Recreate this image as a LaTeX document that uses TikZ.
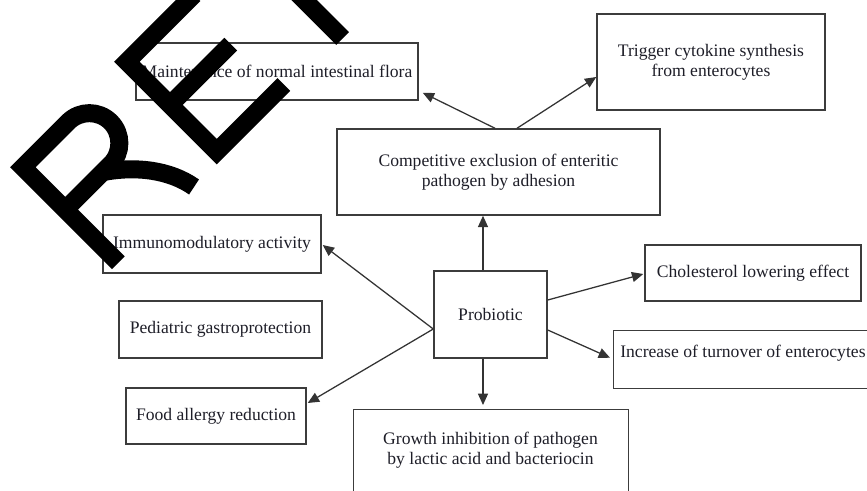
\documentclass[tikz,border=0pt]{standalone}
\usepackage{fontspec}
\setmainfont{Liberation Serif}
\usetikzlibrary{arrows.meta,calc}
\newlength{\pxu}\setlength{\pxu}{0.75pt}
\definecolor{linec}{HTML}{333333}
\definecolor{boxc}{HTML}{3C3C3C}
\definecolor{txtc}{HTML}{1E1E28}
\begin{document}
\begin{tikzpicture}[x=0.75pt,y=-0.75pt,
  box/.style={draw=boxc, line width=1.1pt, rectangle, inner sep=0pt,
    font=\fontsize{13.2pt}{15pt}\selectfont, text=txtc, align=center},
  txt/.style={inner sep=0pt, font=\fontsize{13.2pt}{15pt}\selectfont, text=txtc, align=center},
  arr/.style={draw=linec, line width=0.95pt, -{Triangle[length=8.5pt,width=7.5pt]}},
  wm/.style={draw=black, line width=13.5pt, line cap=butt, line join=miter}
]
\path[use as bounding box] (0,0) rectangle (867,490);
\clip (0,0) rectangle (867,490);

\node[box, minimum width=282\pxu, minimum height=57\pxu] (maint) at (277,71.5) {Maintenance of normal intestinal flora};
\node[box, minimum width=228\pxu, minimum height=96\pxu] (trig) at (711,62) {Trigger cytokine synthesis\\from enterocytes};
\node[box, minimum width=323\pxu, minimum height=86\pxu] (comp) at (498.5,172) {Competitive exclusion of enteritic\\pathogen by adhesion};
\node[box, minimum width=218\pxu, minimum height=58\pxu] (immu) at (212,244) {Immunomodulatory activity};
\node[box, minimum width=203\pxu, minimum height=57\pxu] (pedi) at (220.5,329.5) {Pediatric gastroprotection};
\node[box, minimum width=180\pxu, minimum height=56\pxu] (food) at (216,416) {Food allergy reduction};
\node[box, minimum width=113\pxu, minimum height=87\pxu] (prob) at (490.5,314.5) {Probiotic};
\node[box, minimum width=216\pxu, minimum height=56\pxu] (chol) at (753,273) {Cholesterol lowering effect};
\node[box, minimum width=280\pxu, minimum height=58\pxu, anchor=north west] (incr) at (613,330) {};
\node[txt, anchor=base west] (incrtxt) at (620,357) {Increase of turnover of enterocytes};
\node[box, minimum width=275\pxu, minimum height=110\pxu, anchor=north west] (grow) at (353,409) {};
\node[txt] (growtxt) at (490.5,450) {Growth inhibition of pathogen\\by lactic acid and bacteriocin};

\coordinate (pu) at ($(prob.north)+(-7.5,0)$);
\draw[arr] (pu) -- (pu |- comp.south);
\coordinate (pd) at ($(prob.south)+(-7.5,0)$);
\coordinate (gt0) at (pd |- grow.north);
\coordinate (gt) at ($(gt0)+(0,-4)$);
\draw[arr] (pd) -- (gt);
\coordinate (pl) at ($(prob.west)+(0,14.5)$);
\draw[arr] (pl) -- ($(immu.east)+(1,1)$);
\draw[arr] (pl) -- ($(food.east)+(1,-13)$);
\draw[arr] ($(prob.east)+(0,-14.5)$) -- ($(chol.west)+(-1,1)$);
\draw[arr] ($(prob.east)+(0,15.5)$) -- ($(incr.west)+(-3,-2)$);
\draw[arr] ($(comp.north)+(-3.5,0)$) -- ($(maint.south east)+(4,-8)$);
\draw[arr] ($(comp.north)+(18.5,0)$) -- ($(trig.west)+(0,15)$);

\begin{scope}[shift={(112,269)}, x={(0.53033pt,0.53033pt)}, y={(-0.53033pt,0.53033pt)}]
\draw[wm] (9,0) -- (9,135) -- (73,135) arc[start angle=90,end angle=-90,radius=30] -- (9,75);
\draw[wm] (62,75) .. controls (90,56) and (111,29) .. (116,0);
\draw[wm] (252,9) -- (157,9) -- (157,136) -- (252,136);
\draw[wm] (157,75) -- (243,75);
\draw[wm] (326,0) -- (326,136);
\draw[wm] (275,136) -- (378,136);
\end{scope}
\end{tikzpicture}
\end{document}
